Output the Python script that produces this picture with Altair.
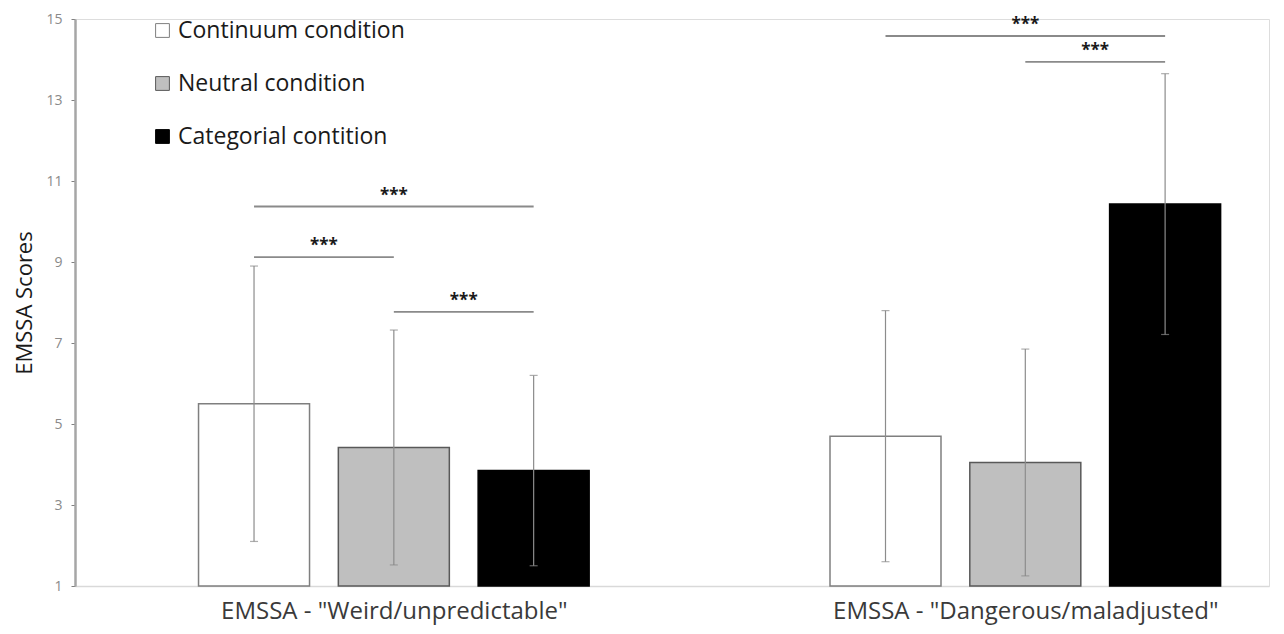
import altair as alt
import pandas as pd

groups = ['EMSSA - "Weird/unpredictable"', 'EMSSA - "Dangerous/maladjusted"']
conditions = ["Continuum condition", "Neutral condition", "Categorial contition"]
means_weird = [5.5, 4.42, 3.85]
errors_weird = [3.4, 2.9, 2.35]
means_danger = [4.7, 4.05, 10.43]
errors_danger = [3.1, 2.8, 3.22]

# significance brackets: group index, from condition, to condition, level
sig_group = [0, 0, 0, 1, 1]
sig_from = [0, 0, 1, 0, 1]
sig_to = [2, 1, 2, 2, 2]
sig_level = [10.37, 9.12, 7.77, 14.58, 13.94]
sig_label = ["***", "***", "***", "***", "***"]

y_ticks = [1, 3, 5, 7, 9, 11, 13, 15]
fills = ["#ffffff", "#bfbfbf", "#000000"]
strokes = ["#7f7f7f", "#595959", "#000000"]

group_pos = [1, 2]
cond_step = 0.2214


def xpos(g, c):
    return group_pos[g] + (c - 1) * cond_step


rows = []
for g, (means, errs) in enumerate([(means_weird, errors_weird), (means_danger, errors_danger)]):
    for c, cond in enumerate(conditions):
        rows.append({
            "group": groups[g], "cond": cond, "x": xpos(g, c),
            "mean": means[c], "base": y_ticks[0],
            "lo": means[c] - errs[c], "hi": means[c] + errs[c],
        })
df = pd.DataFrame(rows)
caps = pd.concat([
    df[["x"]].assign(y=df["lo"]),
    df[["x"]].assign(y=df["hi"]),
])
sig = pd.DataFrame({
    "x1": [xpos(g, a) for g, a in zip(sig_group, sig_from)],
    "x2": [xpos(g, b) for g, b in zip(sig_group, sig_to)],
    "level": sig_level,
    "label": sig_label,
})
sig["xm"] = (sig["x1"] + sig["x2"]) / 2

xscale = alt.Scale(domain=[0.503, 2.378], nice=False, zero=False)
yscale = alt.Scale(domain=[1, 15], nice=False, zero=False)

label_expr = f"datum.value == 1 ? '{groups[0]}' : '{groups[1]}'"

xaxis = alt.Axis(values=group_pos, labelExpr=label_expr, title=None, grid=False,
                 ticks=False, domainColor="#d9d9d9", domainWidth=1.5,
                 labelFontSize=24, labelPadding=13, labelColor="#3a3a3a",
                 labelFlush=False, labelFont="Open Sans", labelLimit=600)
yaxis = alt.Axis(values=y_ticks, title="EMSSA Scores", grid=False,
                 tickSize=4, tickColor="#808080", domainColor="#a6a6a6",
                 domainWidth=2.5, labelFontSize=14, labelColor="#8a8a8a",
                 labelPadding=9, titleFontSize=22, titleFontWeight="normal",
                 titleColor="#1a1a1a", titlePadding=9, labelFont="Open Sans",
                 titleFont="Open Sans")

bars = alt.Chart(df).mark_bar(size=111, strokeWidth=1.5).encode(
    x=alt.X("x:Q", scale=xscale, axis=xaxis),
    y=alt.Y("mean:Q", scale=yscale, axis=yaxis),
    y2="base:Q",
    fill=alt.Fill("cond:N", scale=alt.Scale(domain=conditions, range=fills),
                  legend=alt.Legend(title=None, orient="none", legendX=76, legendY=0,
                                    symbolType="square", symbolSize=190,
                                    symbolStrokeColor="#595959", symbolStrokeWidth=1,
                                    labelFontSize=23, labelFont="Open Sans",
                                    labelColor="#1a1a1a", labelOffset=4,
                                    rowPadding=29, padding=0, labelLimit=400)),
    stroke=alt.Stroke("cond:N", scale=alt.Scale(domain=conditions, range=strokes),
                      legend=None),
)

err = alt.Chart(df).mark_rule(color="#8c8c8c", strokeWidth=1.2).encode(
    x="x:Q", y="lo:Q", y2="hi:Q"
)
cap = alt.Chart(caps).mark_tick(orient="horizontal", size=8, thickness=1.2,
                                color="#8c8c8c").encode(x="x:Q", y="y:Q")

sig_lines = alt.Chart(sig).mark_rule(color="#8a8a8a", strokeWidth=1.8).encode(
    x="x1:Q", x2="x2:Q", y="level:Q"
)
sig_text = alt.Chart(sig).mark_text(fontSize=17, fontWeight="bold", baseline="alphabetic",
                                    dy=-6, color="#1a1a1a", font="Open Sans").encode(
    x="xm:Q", y="level:Q", text="label:N"
)

chart = alt.layer(bars, err, cap, sig_lines, sig_text).properties(
    width=1194, height=567,
    padding={"left": 5, "top": 4, "right": 5, "bottom": 5},
).configure_view(stroke=None).configure(font="Open Sans")

chart.save("out.html", embed_options={"renderer": "svg", "actions": False})
